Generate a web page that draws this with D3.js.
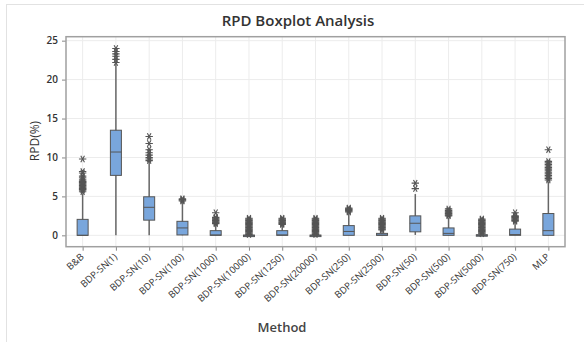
<!DOCTYPE html>
<html>
<head>
<meta charset="utf-8">
<script src="https://cdn.jsdelivr.net/npm/d3@7"></script>
<style>
  body { margin: 0; background: #fff; }
  svg text { font-family: "Open Sans", "Noto Sans", sans-serif; }
</style>
</head>
<body>
<div id="chart"></div>
<script>
const categories = ['B&B', 'BDP-SN(1)', 'BDP-SN(10)', 'BDP-SN(100)', 'BDP-SN(1000)', 'BDP-SN(10000)',
  'BDP-SN(1250)', 'BDP-SN(20000)', 'BDP-SN(250)', 'BDP-SN(2500)', 'BDP-SN(50)', 'BDP-SN(500)',
  'BDP-SN(5000)', 'BDP-SN(750)', 'MLP'];

const q1          = [0,    7.7,  1.95, 0.05, 0,    0,    0,    0,    0,    0,    0.45, 0,    0,    0,    0];
const median      = [0,    10.7, 3.6,  0.95, 0.05, 0,    0.05, 0,    0.5,  0.03, 1.55, 0.25, 0,    0.1,  0.6];
const q3          = [2.05, 13.5, 4.95, 1.8,  0.6,  0.03, 0.6,  0.03, 1.25, 0.25, 2.5,  0.95, 0.08, 0.8,  2.8];
const whiskerLow  = [0,    0,    0,    0,    0,    0,    0,    0,    0,    0,    0.05, 0,    0,    0,    0];
const whiskerHigh = [5.4,  22.0, 9.5,  4.3,  1.35, 0.07, 1.25, 0.07, 2.85, 0.6,  5.3,  2.3,  0.15, 1.7,  6.9];

const outliers = [
  [5.6, 5.8, 5.9, 6.0, 6.1, 6.2, 6.3, 6.4, 6.5, 6.6, 6.7, 6.8, 6.9, 7.0, 7.2, 7.4, 7.6, 8.0, 8.2, 9.8],
  [22.2, 22.6, 23.0, 23.3, 23.6, 24.0],
  [9.6, 9.8, 10.0, 10.3, 10.6, 11.0, 11.8, 12.7],
  [4.4, 4.5, 4.6, 4.7],
  [1.5, 1.6, 1.7, 1.8, 1.9, 2.0, 2.1, 2.2, 2.3, 2.9],
  [0.1, 0.2, 0.3, 0.4, 0.5, 0.6, 0.7, 0.8, 0.9, 1.0, 1.1, 1.2, 1.3, 1.4, 1.5, 1.6, 1.7, 1.8, 1.9, 2.0, 2.1, 2.2],
  [1.4, 1.5, 1.6, 1.7, 1.8, 1.9, 2.0, 2.1, 2.2],
  [0.1, 0.2, 0.3, 0.4, 0.5, 0.6, 0.7, 0.8, 0.9, 1.0, 1.1, 1.2, 1.3, 1.4, 1.5, 1.6, 1.7, 1.8, 1.9, 2.0, 2.1, 2.2],
  [3.0, 3.1, 3.2, 3.3, 3.4, 3.5],
  [0.7, 0.8, 0.9, 1.0, 1.1, 1.2, 1.3, 1.4, 1.5, 1.6, 1.7, 1.8, 1.9, 2.0, 2.1, 2.2],
  [6.0, 6.7],
  [2.5, 2.6, 2.7, 2.8, 2.9, 3.0, 3.1, 3.2, 3.4],
  [0.2, 0.3, 0.4, 0.5, 0.6, 0.7, 0.8, 0.9, 1.0, 1.1, 1.2, 1.3, 1.4, 1.5, 1.6, 1.7, 1.8, 1.9, 2.0, 2.1],
  [1.8, 1.9, 2.0, 2.1, 2.2, 2.3, 2.4, 2.5, 2.9],
  [7.1, 7.3, 7.5, 7.7, 7.9, 8.1, 8.3, 8.5, 8.7, 8.9, 9.1, 9.3, 9.5, 11.0]
];

const yTicks = [0, 5, 10, 15, 20, 25];

const width = 584, height = 342;
const frame = {left: 66, right: 565, top: 36.7, bottom: 246.7};

const svg = d3.select('#chart').append('svg')
  .attr('width', width)
  .attr('height', height);

// outer light border
svg.append('rect')
  .attr('x', 6.5).attr('y', 4.5)
  .attr('width', 600).attr('height', 360)
  .attr('fill', 'none')
  .attr('stroke', '#e2e2e2');

const x = d3.scalePoint()
  .domain(categories)
  .range([frame.left, frame.right])
  .padding(0.5);

const y = d3.scaleLinear()
  .domain([-1.46, 25.51])
  .range([frame.bottom, frame.top]);

// grid
svg.append('g')
  .selectAll('line.vg')
  .data(categories)
  .join('line')
  .attr('x1', d => x(d)).attr('x2', d => x(d))
  .attr('y1', frame.top).attr('y2', frame.bottom)
  .attr('stroke', '#ececec');

svg.append('g')
  .selectAll('line.hg')
  .data(yTicks)
  .join('line')
  .attr('x1', frame.left).attr('x2', frame.right)
  .attr('y1', d => y(d)).attr('y2', d => y(d))
  .attr('stroke', '#ececec');

// axes
const yAxis = d3.axisLeft(y).tickValues(yTicks).tickSize(4).tickPadding(4);
const gy = svg.append('g')
  .attr('transform', 'translate(' + frame.left + ',0)')
  .call(yAxis);
gy.select('.domain').remove();
gy.selectAll('.tick line').attr('stroke', '#888');
gy.selectAll('.tick text')
  .attr('fill', '#333')
  .style('font-size', '10px')
  .style('font-weight', 600);

const xAxis = d3.axisBottom(x).tickSize(4).tickFormat('');
const gx = svg.append('g')
  .attr('transform', 'translate(0,' + frame.bottom + ')')
  .call(xAxis);
gx.select('.domain').remove();
gx.selectAll('.tick line').attr('stroke', '#888');

svg.append('g')
  .selectAll('text')
  .data(categories)
  .join('text')
  .attr('transform', d => 'translate(' + (x(d) + 2) + ',' + (frame.bottom + 11) + ') rotate(-42)')
  .attr('text-anchor', 'end')
  .attr('fill', '#333')
  .style('font-size', '9.5px')
  .style('font-weight', 500)
  .text(d => d);

// plot frame
svg.append('rect')
  .attr('x', frame.left).attr('y', frame.top)
  .attr('width', frame.right - frame.left)
  .attr('height', frame.bottom - frame.top)
  .attr('fill', 'none')
  .attr('stroke', '#a0a0a0')
  .attr('stroke-width', 1.5);

// boxes
const boxW = 11;
const boxes = svg.append('g')
  .selectAll('g')
  .data(categories)
  .join('g');

boxes.append('line')
  .attr('x1', d => x(d)).attr('x2', d => x(d))
  .attr('y1', (d, i) => y(whiskerLow[i]))
  .attr('y2', (d, i) => y(whiskerHigh[i]))
  .attr('stroke', '#666')
  .attr('stroke-width', 1.5);

boxes.append('rect')
  .attr('x', d => x(d) - boxW / 2)
  .attr('width', boxW)
  .attr('y', (d, i) => y(q3[i]))
  .attr('height', (d, i) => Math.max(1.5, y(q1[i]) - y(q3[i])))
  .attr('fill', '#79a6dc')
  .attr('stroke', '#555')
  .attr('stroke-width', 1);

boxes.append('line')
  .attr('x1', d => x(d) - boxW / 2).attr('x2', d => x(d) + boxW / 2)
  .attr('y1', (d, i) => y(median[i]))
  .attr('y2', (d, i) => y(median[i]))
  .attr('stroke', '#555')
  .attr('stroke-width', 1);

// outlier asterisks
const star = d3.symbol().type(d3.symbolAsterisk).size(38);
boxes.each(function(d, i) {
  d3.select(this).selectAll('path.out')
    .data(outliers[i])
    .join('path')
    .attr('class', 'out')
    .attr('d', star)
    .attr('transform', v => 'translate(' + x(d) + ',' + y(v) + ') rotate(90)')
    .attr('fill', 'none')
    .attr('stroke', '#555')
    .attr('stroke-width', 1.1);
});

// titles
svg.append('text')
  .attr('x', 298).attr('y', 26)
  .attr('text-anchor', 'middle')
  .attr('fill', '#333')
  .style('font-size', '15px')
  .style('font-weight', 600)
  .text('RPD Boxplot Analysis');

svg.append('text')
  .attr('transform', 'translate(39,141) rotate(-90)')
  .attr('text-anchor', 'middle')
  .attr('fill', '#333')
  .style('font-size', '12px')
  .style('font-weight', 500)
  .text('RPD(%)');

svg.append('text')
  .attr('x', 282).attr('y', 332)
  .attr('text-anchor', 'middle')
  .attr('fill', '#444')
  .style('font-size', '13px')
  .style('font-weight', 600)
  .text('Method');
</script>
</body>
</html>
